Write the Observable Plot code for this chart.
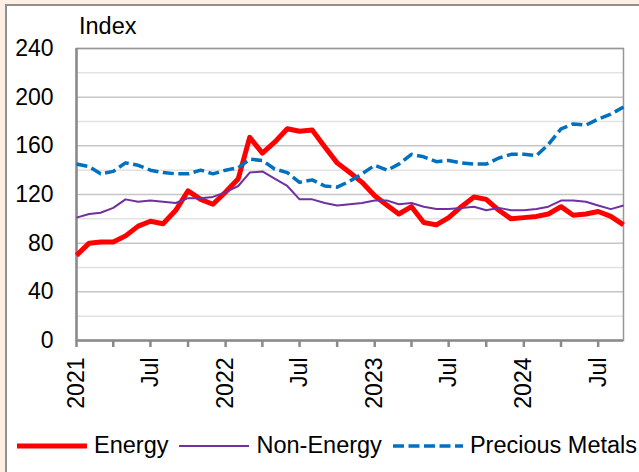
<!DOCTYPE html>
<html><head><meta charset="utf-8">
<script src="https://cdn.jsdelivr.net/npm/d3@7"></script>
<script src="https://cdn.jsdelivr.net/npm/@observablehq/plot@0.6"></script>
<style>
html,body{margin:0;padding:0;background:#fdefe4;width:639px;height:472px;overflow:hidden;font-family:"Liberation Sans",Arial,sans-serif;}
#box{position:absolute;left:5px;top:4px;width:640px;height:480px;background:#fff;border:2px solid #8f8f8f;box-sizing:border-box;}
#chart{position:absolute;left:0;top:0;}
#title{position:absolute;left:79px;top:15px;font-size:23.5px;line-height:23px;color:#000;}
#legend{position:absolute;left:17px;top:434px;display:flex;align-items:center;font-size:23.5px;line-height:23px;white-space:nowrap;color:#000;}
#legend svg{display:block;}
</style></head><body>
<div id="box"></div>
<div id="chart"></div>
<div id="title">Index</div>
<div id="legend"></div>
<script>
const months = [
  "2021-01","2021-02","2021-03","2021-04","2021-05","2021-06","2021-07","2021-08","2021-09","2021-10","2021-11","2021-12",
  "2022-01","2022-02","2022-03","2022-04","2022-05","2022-06","2022-07","2022-08","2022-09","2022-10","2022-11","2022-12",
  "2023-01","2023-02","2023-03","2023-04","2023-05","2023-06","2023-07","2023-08","2023-09","2023-10","2023-11","2023-12",
  "2024-01","2024-02","2024-03","2024-04","2024-05","2024-06","2024-07","2024-08","2024-09"
];
const energy = [70,80,81,81,86,94,98,96,107,123,116,112,
  122,133,167,154,163,174,172,173,159,146,138,130,
  119,111,104,110,97,95,101,110,118,116,107,100,
  101,102,104,110,103,104,106,102,95];
const nonEnergy = [101,104,105,109,116,114,115,114,113,117,117,118,
  122,127,138,139,133,127,116,116,113,111,112,113,
  115,115,112,113,110,108,108,109,110,107,109,107,
  107,108,110,115,115,114,111,108,111];
const precious = [145,143,137,139,146,144,140,138,137,137,140,137,
  140,142,149,148,141,138,130,132,127,126,131,137,
  144,140,145,153,151,147,148,146,145,145,150,153,
  153,152,161,174,178,177,182,186,192];

const seriesNames = ["Energy","Non-Energy","Precious Metals"];
const seriesColors = ["#ff0000","#7030a0","#0070c0"];
const seriesWidths = [5,2,3.5];
const seriesDash = [null,null,"11,4.5"];
const seriesValues = [energy, nonEnergy, precious];

const yMajorTicks = [0,40,80,120,160,200,240];
const yMinorTicks = [20,60,100,140,180,220];
const xTickMonths = ["2021-01","2021-04","2021-07","2021-10","2022-01","2022-04","2022-07","2022-10",
  "2023-01","2023-04","2023-07","2023-10","2024-01","2024-04","2024-07"];
const xTickLabels = {"2021-01":"2021","2021-07":"Jul","2022-01":"2022","2022-07":"Jul",
  "2023-01":"2023","2023-07":"Jul","2024-01":"2024","2024-07":"Jul"};

const toDate = s => new Date(Date.UTC(+s.slice(0,4), +s.slice(5,7) - 1, 1));
const key = d => d.toISOString().slice(0,7);
const dates = months.map(toDate);
const xTicks = xTickMonths.map(toDate);

const lineMarks = seriesNames.map((name, i) => Plot.line(
  dates.map((d, j) => ({date: d, value: seriesValues[i][j]})),
  {x: "date", y: "value", stroke: seriesColors[i], strokeWidth: seriesWidths[i],
   strokeDasharray: seriesDash[i] || undefined, strokeLinejoin: "round", strokeLinecap: "butt"}
));

const chart = Plot.plot({
  width: 639,
  height: 420,
  marginTop: 48,
  marginBottom: 80,
  marginLeft: 76,
  marginRight: 16,
  style: {fontSize: "23px", fontFamily: "Liberation Sans, Arial, sans-serif", color: "#000", background: "transparent", overflow: "visible"},
  x: {type: "utc", domain: [dates[0], dates[dates.length - 1]]},
  y: {domain: [0, 240]},
  marks: [
    Plot.ruleY(yMinorTicks, {stroke: "#e2e2e2", strokeWidth: 1.5}),
    Plot.ruleY(yMajorTicks.filter(v => v > 0), {stroke: "#c6c6c6", strokeWidth: 1.5}),
    Plot.frame({stroke: "#979797", strokeWidth: 1.5}),
    Plot.ruleY([0], {stroke: "#8a8a8a", strokeWidth: 2.5}),
    Plot.ruleX([dates[0]], {stroke: "#8a8a8a", strokeWidth: 2.5}),
    Plot.axisY(yMajorTicks, {tickSize: 0, tickPadding: 23, fill: "#000", label: null}),
    Plot.axisX(xTicks, {tickSize: 7, tickPadding: 10, tickRotate: -90, stroke: "#8a8a8a", strokeWidth: 2.5,
      fill: "#000", label: null, tickFormat: d => xTickLabels[key(d)] || ""}),
    ...lineMarks
  ]
});
document.getElementById("chart").appendChild(chart);

const legend = document.getElementById("legend");
seriesNames.forEach((name, i) => {
  const sw = document.createElementNS("http://www.w3.org/2000/svg", "svg");
  sw.setAttribute("width", 70); sw.setAttribute("height", 10);
  sw.style.marginRight = "7px";
  const ln = document.createElementNS("http://www.w3.org/2000/svg", "line");
  ln.setAttribute("x1", 0); ln.setAttribute("x2", 70); ln.setAttribute("y1", 5); ln.setAttribute("y2", 5);
  ln.setAttribute("stroke", seriesColors[i]); ln.setAttribute("stroke-width", seriesWidths[i]);
  if (seriesDash[i]) ln.setAttribute("stroke-dasharray", seriesDash[i]);
  if (i === 0) ln.setAttribute("stroke-linecap", "round");
  sw.appendChild(ln);
  legend.appendChild(sw);
  const t = document.createElement("span");
  t.textContent = name;
  t.style.marginRight = "11px";
  legend.appendChild(t);
});
</script>
</body></html>
